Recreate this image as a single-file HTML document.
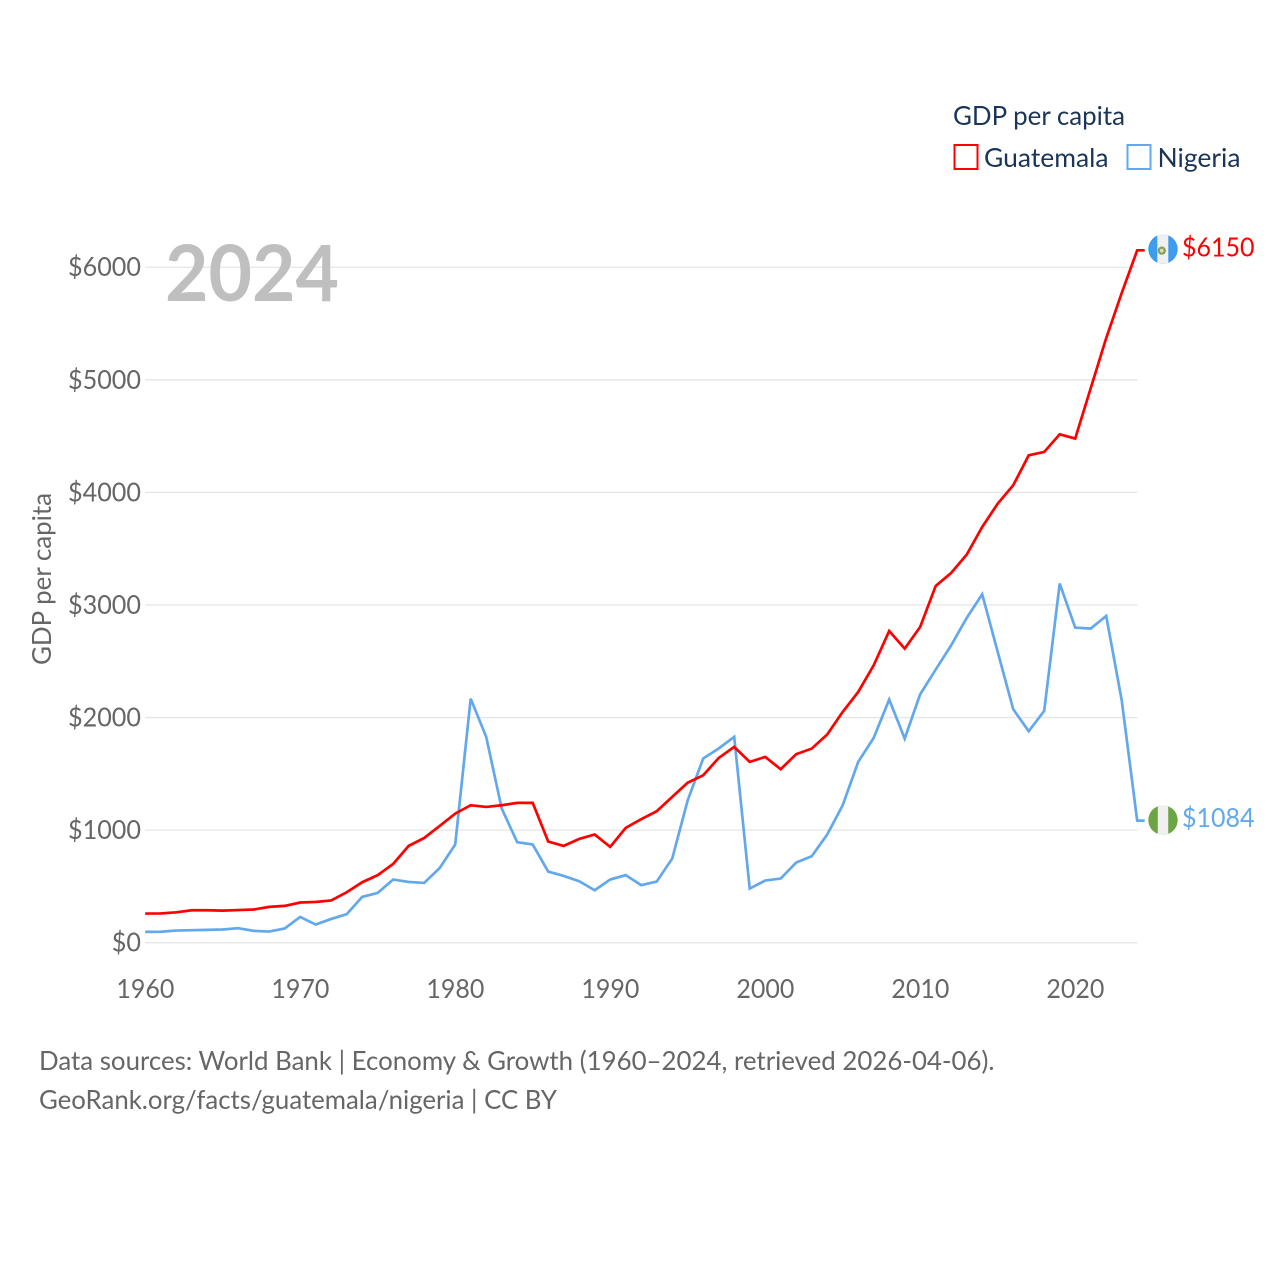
<!DOCTYPE html>
<html lang="en">
<head>
<meta charset="utf-8">
<title>GDP per capita: Guatemala and Nigeria</title>
<style>
html,body{margin:0;padding:0;background:#fff;}
svg{display:block;}
text{font-family:"Lato","Carlito","Liberation Sans",sans-serif;}
</style>
</head>
<body>
<svg id="chart" xmlns="http://www.w3.org/2000/svg" width="1280" height="1280" viewBox="0 0 1280 1280">
  <rect width="1280" height="1280" fill="#ffffff"/>
  <defs>
    <clipPath id="clip-gt"><circle id="clip-gt-circle" r="14.7"/></clipPath>
    <clipPath id="clip-ng"><circle id="clip-ng-circle" r="14.7"/></clipPath>
  </defs>
  <g id="grid"></g>
  <g id="yticks"></g>
  <g id="xticks"></g>
  <g id="lines"></g>
  <g id="ends"></g>

  <text x="165" y="301" font-size="78" font-weight="700" fill="#bfbfbf" textLength="174" lengthAdjust="spacingAndGlyphs">2024</text>
  <text transform="translate(51,665) rotate(-90)" font-size="26" fill="#666666" textLength="172" lengthAdjust="spacingAndGlyphs">GDP per capita</text>

  <g>
    <text x="953" y="125" font-size="26" fill="#1a3557" textLength="172" lengthAdjust="spacingAndGlyphs">GDP per capita</text>
    <g>
      <rect x="954.5" y="145" width="23" height="24" fill="none" stroke="#ff0000" stroke-width="2"/>
      <text x="984" y="167" font-size="26" fill="#1a3557" textLength="124.5" lengthAdjust="spacingAndGlyphs">Guatemala</text>
    </g>
    <g>
      <rect x="1127.5" y="145" width="23" height="24" fill="none" stroke="#62a8ea" stroke-width="2"/>
      <text x="1157.5" y="167" font-size="26" fill="#1a3557" textLength="83" lengthAdjust="spacingAndGlyphs">Nigeria</text>
    </g>
  </g>

  <g>
    <text x="39" y="1070" font-size="26" fill="#666666" textLength="955.5" lengthAdjust="spacingAndGlyphs">Data sources: World Bank | Economy &amp; Growth (1960–2024, retrieved 2026-04-06).</text>
    <text x="39" y="1109" font-size="26" fill="#666666" textLength="518" lengthAdjust="spacingAndGlyphs">GeoRank.org/facts/guatemala/nigeria | CC BY</text>
  </g>
</svg>

<script>
const firstYear = 1960;
const yTickValues = [0, 1000, 2000, 3000, 4000, 5000, 6000];
const yTickLabels = ["$0", "$1000", "$2000", "$3000", "$4000", "$5000", "$6000"];
const xTickValues = [1960, 1970, 1980, 1990, 2000, 2010, 2020];
const xTickLabels = ["1960", "1970", "1980", "1990", "2000", "2010", "2020"];

const guatemalaValues = [
  259, 260, 270, 288, 288, 285, 290, 295, 318, 327,
  357, 362, 375, 448, 537, 600, 700, 860, 930, 1037,
  1147, 1221, 1206, 1221, 1242, 1242, 899, 860, 922, 961,
  851, 1020, 1097, 1168, 1295, 1422, 1487, 1641, 1739, 1606,
  1650, 1541, 1675, 1724, 1849, 2050, 2227, 2464, 2769, 2612,
  2805, 3169, 3285, 3447, 3693, 3900, 4063, 4329, 4359, 4516,
  4478, 4925, 5370, 5770, 6150
];
const nigeriaValues = [
  96, 97, 108, 111, 114, 117, 129, 105, 99, 126,
  229, 161, 211, 253, 407, 442, 561, 540, 531, 664,
  872, 2168, 1828, 1192, 893, 872, 632, 593, 546, 466,
  561, 600, 511, 543, 747, 1265, 1636, 1725, 1828, 481,
  552, 570, 712, 768, 961, 1221, 1606, 1819, 2160, 1813,
  2207, 2426, 2642, 2885, 3095, 2583, 2074, 1878, 2059, 3190,
  2799, 2790, 2902, 2154, 1084
];
const guatemalaEndLabel = "$6150";
const nigeriaEndLabel = "$1084";

const NS = "http://www.w3.org/2000/svg";
const xScale = year => 145.2 + (year - firstYear) * 15.5;
const yScale = value => 942.7 - value * 0.11258;
function mk(tag, parent, attrs) {
  const el = document.createElementNS(NS, tag);
  for (const key in attrs) el.setAttribute(key, attrs[key]);
  parent.appendChild(el);
  return el;
}

const grid = document.getElementById("grid");
const yticks = document.getElementById("yticks");
yTickValues.forEach((value, i) => {
  const line = mk("line", grid, {x1: 145, x2: 1137.5, y1: yScale(value), y2: yScale(value), stroke: "#e6e6e6", "stroke-width": 1.3});
  
  
  const label = mk("text", yticks, {x: 141, y: yScale(value) + 9, "text-anchor": "end", "font-size": 26, fill: "#666666", textLength: yTickLabels[i].length * 14.6, lengthAdjust: "spacingAndGlyphs"});
  
  
  label.textContent = yTickLabels[i];
});

const xticks = document.getElementById("xticks");
xTickValues.forEach((year, i) => {
  const label = mk("text", xticks, {x: xScale(year) + 0.2, y: 998, "text-anchor": "middle", "font-size": 26, fill: "#666666", textLength: 58, lengthAdjust: "spacingAndGlyphs"});
  
  
  label.textContent = xTickLabels[i];
});

function drawSeries(values, color, seriesName) {
  const group = document.getElementById("lines");
  const pts = values.map((v, i) => xScale(firstYear + i).toFixed(2) + "," + yScale(v).toFixed(2));
  const lastY = yScale(values[values.length - 1]);
  pts.push((xScale(firstYear + values.length - 1) + 7.5).toFixed(2) + "," + lastY.toFixed(2));
  const line = mk("polyline", group, {points: pts.join(" "), fill: "none", stroke: color, "stroke-width": 2.7, "stroke-linejoin": "miter"});
  
  
}
drawSeries(nigeriaValues, "#62a8ea", "nigeria-line");
drawSeries(guatemalaValues, "#ff0000", "guatemala-line");

const ends = document.getElementById("ends");
const flagX = 1163;

function endLabel(value, text, color, name) {
  const t = mk("text", ends, {x: 1182, y: yScale(value) + 6.3, "font-size": 26, fill: color, textLength: 72.5, lengthAdjust: "spacingAndGlyphs"});
  
  
  t.textContent = text;
}

const gtY = yScale(guatemalaValues[guatemalaValues.length - 1]) - 1.2;
const ngY = yScale(nigeriaValues[nigeriaValues.length - 1]) - 0.6;

const gtClip = document.getElementById("clip-gt-circle");
gtClip.setAttribute("cx", flagX);
gtClip.setAttribute("cy", gtY);
const ngClip = document.getElementById("clip-ng-circle");
ngClip.setAttribute("cx", flagX);
ngClip.setAttribute("cy", ngY);

const gtFlag = mk("g", ends, {"clip-path": "url(#clip-gt)"});


mk("rect", gtFlag, {x: flagX - 15, y: gtY - 15, width: 30, height: 30, fill: "#3f9bf0"});
mk("rect", gtFlag, {x: flagX - 5.7, y: gtY - 15, width: 11, height: 30, fill: "#f0f0f0"});
mk("circle", gtFlag, {cx: flagX - 1.2, cy: gtY + 1.5, r: 3, fill: "#dcdcc8", stroke: "#86a056", "stroke-width": 2.3});

const ngFlag = mk("g", ends, {"clip-path": "url(#clip-ng)"});


mk("rect", ngFlag, {x: flagX - 15, y: ngY - 15, width: 30, height: 30, fill: "#6da544"});
mk("rect", ngFlag, {x: flagX - 5.2, y: ngY - 15, width: 10.4, height: 30, fill: "#f0f0f0"});

endLabel(guatemalaValues[guatemalaValues.length - 1], guatemalaEndLabel, "#ff0000", "guatemala-end-value");
endLabel(nigeriaValues[nigeriaValues.length - 1], nigeriaEndLabel, "#62a8ea", "nigeria-end-value");
</script>
</body>
</html>
